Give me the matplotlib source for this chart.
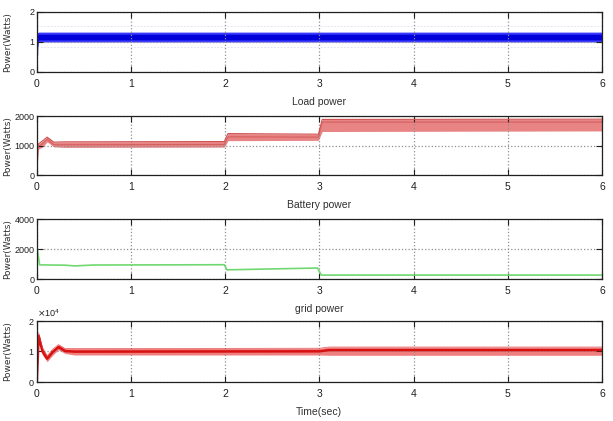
import numpy as np
import matplotlib.pyplot as plt
from matplotlib.ticker import ScalarFormatter

plt.rcParams['font.family'] = ['Liberation Sans', 'DejaVu Sans']

'''Values read off the picture (band = lower/upper envelope of the ripple)'''
#Load power
load_t = [0.0, 0.02, 6.0]
load_lo = [0.6, 1.0, 1.0]
load_hi = [1.3, 1.33, 1.33]
load_core_lo = [0.9, 1.07, 1.07]
load_core_hi = [1.25, 1.26, 1.26]
load_fringe = [1.54, 0.82]
#Battery power [W]
bat_t = [0.0, 0.015, 0.06, 0.11, 0.18, 0.3, 1.99, 2.03, 2.99, 3.03, 6.0]
bat_lo = [0, 880, 950, 1130, 960, 940, 950, 1170, 1180, 1480, 1500]
bat_hi = [0, 1050, 1160, 1290, 1120, 1130, 1140, 1410, 1390, 1890, 1900]
bat_mid = [0, 980, 1060, 1220, 1030, 1030, 1040, 1300, 1290, 1800, 1800]
#Grid power [W]
grid_t = [0.0, 0.005, 0.03, 0.3, 0.4, 0.6, 1.99, 2.02, 2.5, 2.98, 3.02, 6.0]
grid_p = [0, 2050, 950, 930, 880, 940, 960, 620, 680, 740, 270, 270]
#Bottom panel [W]
inv_t = [0.0, 0.02, 0.06, 0.11, 0.17, 0.23, 0.3, 0.4, 3.0, 3.1, 6.0]
inv_lo = [0, 13500, 8800, 6600, 8800, 10500, 9300, 8800, 8800, 8700, 8700]
inv_hi = [0, 16000, 11200, 8500, 10700, 12200, 10900, 10900, 11000, 11400, 11400]
inv_mid = [0, 15000, 10000, 7600, 9800, 11400, 10100, 9900, 10000, 10400, 10400]

xticks = [0, 1, 2, 3, 4, 5, 6]
titles = ['Load power', 'Battery power', 'grid power', 'Time(sec)']
ylims = [(0, 2), (0, 2000), (0, 4000), (0, 20000)]
yticks = [[0, 1, 2], [0, 1000, 2000], [0, 2000, 4000], [0, 10000, 20000]]

#axes boxes in figure fraction [left, bottom, width, height]
boxes = [[0.060, 0.829, 0.922, 0.1425],
         [0.060, 0.584, 0.922, 0.140],
         [0.060, 0.337, 0.922, 0.1425],
         [0.060, 0.093, 0.922, 0.145]]

fig = plt.figure(figsize=(6.13, 4.21), dpi=100)
axs = [fig.add_axes(b) for b in boxes]

#1: load
ax = axs[0]
for yv in load_fringe:
    ax.plot([0, 6], [yv, yv], color='#dcdcf6', lw=0.6, ls=(0, (2, 2)))
ax.fill_between(load_t, load_lo, load_hi, color='#3a3aff', lw=0)
ax.fill_between(load_t, load_core_lo, load_core_hi, color='#0000d8', lw=0)
ax.plot([0, 0], [0.6, 1.3], color='#2020c0', lw=1)

#2: battery
ax = axs[1]
ax.fill_between(bat_t, bat_lo, bat_hi, color='#e88484', lw=0)
ax.plot(bat_t, bat_hi, color='#d05050', lw=0.8)
ax.plot(bat_t, bat_mid, color='#c84848', lw=0.8, alpha=0.6)

#3: grid
ax = axs[2]
ax.plot(grid_t, grid_p, color='#70d870', lw=1.2)

#4: bottom
ax = axs[3]
ax.fill_between(inv_t, inv_lo, inv_hi, color='#f08080', lw=0)
ax.plot(inv_t, inv_mid, color='#d81010', lw=1.8)
ax.plot(inv_t, inv_hi, color='#e03030', lw=0.6, alpha=0.7)

for i, ax in enumerate(axs):
    ax.set_xlim(0, 6)
    ax.set_ylim(*ylims[i])
    ax.set_xticks(xticks)
    ax.set_yticks(yticks[i])
    ax.grid(True, color='#909090', ls=':', lw=0.9)
    ax.tick_params(direction='in', length=4, width=0.8, top=True, right=True,
                   labelsize=7.5, colors='#202020')
    ax.tick_params(axis='y', pad=1.5, labelsize=6.5)
    ax.tick_params(axis='x', pad=5)
    for s in ax.spines.values():
        s.set_linewidth(0.9)
        s.set_color('#202020')
    ax.set_ylabel('Power(Watts)', family='DejaVu Sans', fontsize=6.5, color='#303030')
    ax.yaxis.set_label_coords(-0.043, 0.5)
    ax.set_xlabel(titles[i], fontsize=7.5, labelpad=6, color='#303030')

fmt = ScalarFormatter(useMathText=True)
fmt.set_powerlimits((0, 0))
axs[3].yaxis.set_major_formatter(fmt)
axs[3].yaxis.get_offset_text().set_fontsize(6.5)

fig.savefig('out.png', dpi=100)
